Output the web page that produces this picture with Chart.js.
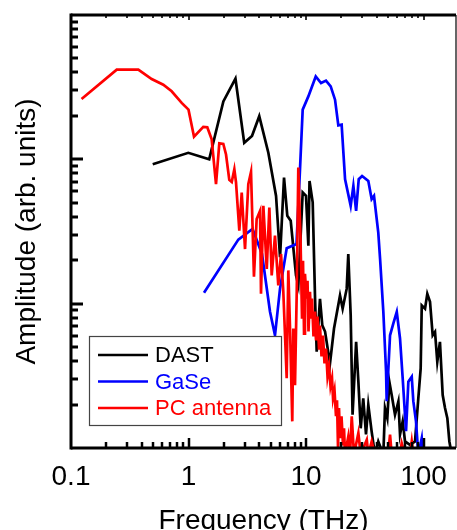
<!DOCTYPE html>
<html>
<head>
<meta charset="utf-8">
<script src="https://cdn.jsdelivr.net/npm/chart.js@4.4.1/dist/chart.umd.min.js"></script>
<style>
  html, body { margin:0; padding:0; background:#fff; overflow:hidden; }
  canvas { display:block; }
</style>
</head>
<body>
<canvas id="c" width="457" height="530"></canvas>
<script>
// spectra (frequency in THz, amplitude in arb. units)
const dastFreq = [0.496,0.996,1.50,1.98,2.51,2.98,3.47,4.00,4.78,5.56,6.01,6.50,6.93,7.41,8.22,8.60,9.37,10.0,10.47,10.71,11.40,11.94,12.33,13.15,13.76,14.52,16.0,17.31,19.47,20.5,22.2,22.9,24.0,24.9,26.7,27.9,29.2,30.7,32.4,33.9,36.2,38.6,41.2,45.5,47.0,49.2,51.2,53.6,57.2,61.1,63.1,66.5,69.6,76.7,84.7,90.3,94.6,96.6,103,107.7,113.6,119.7,125.3,131,138,145.6,152.4,159.5,166,173.8];
const dastAmp  = [0.0924,0.111,0.100,0.252,0.362,0.130,0.145,0.199,0.111,0.0558,0.0210,0.0748,0.0406,0.0375,0.0157,0.0134,0.0589,0.0558,0.0252,0.0708,0.0503,0.0108,0.00465,0.0108,0.00708,0.00641,0.00386,0.00673,0.0114,0.00924,0.0127,0.0221,0.0083,0.0017,0.00544,0.00288,0.00137,0.00221,0.00124,0.00199,0.0013,0.0009,0.00111,0.0009,0.00189,0.00161,0.00288,0.00233,0.0017,0.0021,0.00124,0.00153,0.00111,0.00105,0.00111,0.00221,0.00356,0.00973,0.00924,0.0117,0.0103,0.00604,0.00638,0.00396,0.00544,0.00233,0.00189,0.00161,0.00111,0.0009];

const gaseFreq = [1.355,2.654,3.507,4.22,4.94,5.445,6.01,6.85,8.30,8.89,9.37,10.47,12.10,13.42,14.79,16.22,17.66,18.84,20.1,21.5,24.0,25.3,26.7,28.1,30.0,33.9,36.2,37.9,41.2,42.7,45.5,48.0,48.6,50.1,51.9,55.3,59.2,63.1,66.5,71.0,74.3,79.4,81.9,86.3,90.3,96.6,99];
const gaseAmp  = [0.0119,0.0278,0.0329,0.0221,0.0088,0.00604,0.0127,0.0242,0.0259,0.0853,0.221,0.273,0.375,0.338,0.351,0.320,0.259,0.172,0.174,0.0728,0.0476,0.0655,0.044,0.0728,0.0767,0.0708,0.053,0.0558,0.0312,0.0204,0.0088,0.0034,0.00211,0.0034,0.00604,0.00728,0.00877,0.00574,0.00304,0.00131,0.00288,0.00312,0.00211,0.00153,0.0009,0.00117,0.0009];

const pcFreq = [0.123,0.245,0.374,0.486,0.610,0.719,0.875,1.00,1.114,1.336,1.445,1.575,1.714,1.829,1.978,2.086,2.224,2.333,2.455,2.536,2.707,2.837,3.027,3.228,3.404,3.606,3.802,4.064,4.140,4.335,4.634,4.875,5.105,5.445,5.81,6.13,6.41,6.85,7.07,7.31,7.64,7.80,8.06,8.34,8.60,
  8.98,9.25,9.43,9.62,9.80,10.10,10.30,10.50,10.81,11.03,11.25,11.58,11.93,12.17,12.53,12.90,13.15,13.55,13.95,14.37,14.80,15.24,15.70,16.16,16.65,16.98,17.48,18.00,18.36,18.72,19.09,19.47,20.05,20.65,21.06,21.47,
  22.9,23.7,24.5,25.6,27.9,29.2,32.9,33.9,36.2,38.6,49.9,51.9,53.6,63.1,65.2,69.6,76.7,79.4,81.9];
const pcAmp  = [0.262,0.418,0.418,0.360,0.329,0.296,0.246,0.221,0.1435,0.168,0.167,0.1374,0.0673,0.129,0.128,0.108,0.072,0.0697,0.0853,0.0694,0.0320,0.0589,0.0239,0.0673,0.0817,0.01535,0.0386,0.044,0.01172,0.0476,0.0174,0.0464,0.01567,0.0296,0.01337,0.0221,0.0121,0.00304,0.0170,0.00673,0.00153,0.00673,0.00272,0.0121,0.0877,
  0.0281,0.00788,0.0198,0.00621,0.0161,0.01083,0.0144,0.00641,0.0121,0.00788,0.01083,0.00592,0.00881,0.00556,0.00813,0.00489,0.00705,0.00431,0.00602,0.00386,0.00489,0.00314,0.00368,0.00268,0.00304,0.00221,0.00251,0.00166,0.00214,0.00101,0.00189,0.00117,0.00166,0.00104,0.00137,0.0009,
  0.0012,0.0009,0.00166,0.0009,0.00127,0.0009,0.00114,0.0009,0.00111,0.0009,0.0009,0.00124,0.0009,0.0009,0.00108,0.0009,0.0009,0.00111,0.0009];

const seriesNames  = ['DAST', 'GaSe', 'PC antenna'];
const seriesColors = ['#000000', '#0000ff', '#ff0000'];
const xTickLabels  = ['0.1', '1', '10', '100'];

const FONT = "'Liberation Sans', Arial, sans-serif";

function pts(fx, ay) { return fx.map((f, i) => ({ x: f, y: ay[i] })); }
function isDecade(v) { const l = Math.log10(v); return Math.abs(l - Math.round(l)) < 1e-6; }
function isWhole(v) { const s = v / Math.pow(10, Math.floor(Math.log10(v) + 1e-9)); return Math.abs(s - Math.round(s)) < 1e-6; }

// inward ticks, frame and legend box
const framePlugin = {
  id: 'frame',
  afterDatasetsDraw(chart) {
    const { ctx, chartArea: a, scales: { x, y } } = chart;
    const seg = (x1, y1, x2, y2) => { ctx.beginPath(); ctx.moveTo(x1, y1); ctx.lineTo(x2, y2); ctx.stroke(); };
    ctx.save();
    x.ticks.forEach(t => {
      if (!isWhole(t.value)) return;
      const px = Math.round(x.getPixelForValue(t.value));
      if (px < a.left + 2 || px > a.right - 2) return;
      const maj = isDecade(t.value);
      ctx.strokeStyle = '#000';
      ctx.lineWidth = 2.5;
      seg(px, a.bottom, px, a.bottom - (maj ? 10 : 6));
      ctx.strokeStyle = '#333';
      ctx.lineWidth = 2;
      seg(px, a.top, px, a.top + (maj ? 5 : 3));
    });
    ctx.strokeStyle = '#000';
    y.ticks.forEach(t => {
      if (!isWhole(t.value)) return;
      const py = Math.round(y.getPixelForValue(t.value));
      if (py < a.top + 2 || py > a.bottom - 2) return;
      ctx.lineWidth = 3;
      seg(a.left, py, a.left + (isDecade(t.value) ? 12 : 7), py);
    });
    ctx.lineWidth = 3;
    seg(a.left, a.top, a.right, a.top);
    seg(a.left, a.top - 1.5, a.left, a.bottom + 1.5);
    seg(a.left, a.bottom, a.right, a.bottom);
    ctx.lineWidth = 1.2;
    seg(a.right, a.top, a.right, a.bottom);

    // legend
    const bx = 89, by = 336, bw = 192, bh = 89;
    ctx.fillStyle = '#fff';
    ctx.fillRect(bx, by, bw, bh);
    ctx.strokeStyle = '#444';
    ctx.lineWidth = 1.2;
    ctx.strokeRect(bx + 0.5, by + 0.5, bw, bh);
    ctx.font = '22px ' + FONT;
    ctx.textBaseline = 'middle';
    seriesNames.forEach((n, i) => {
      const ly = 355 + i * 26.5;
      ctx.strokeStyle = seriesColors[i];
      ctx.lineWidth = 2.5;
      seg(98, ly, 148, ly);
      ctx.fillStyle = seriesColors[i];
      ctx.fillText(n, 155, ly + 1);
    });
    ctx.restore();
  }
};

new Chart(document.getElementById('c'), {
  type: 'line',
  data: {
    datasets: [
      { label: seriesNames[0], data: pts(dastFreq, dastAmp), borderColor: seriesColors[0], order: 2 },
      { label: seriesNames[1], data: pts(gaseFreq, gaseAmp), borderColor: seriesColors[1], order: 1 },
      { label: seriesNames[2], data: pts(pcFreq, pcAmp), borderColor: seriesColors[2], order: 0 }
    ]
  },
  options: {
    responsive: false,
    animation: false,
    layout: { padding: { top: 15, right: 1, left: 0, bottom: 0 } },
    elements: { line: { borderWidth: 2.7, tension: 0 }, point: { radius: 0 } },
    plugins: { legend: { display: false }, tooltip: { enabled: false } },
    scales: {
      x: {
        type: 'logarithmic', min: 0.1, max: 189,
        grid: { display: false, drawTicks: false },
        border: { display: false },
        ticks: {
          autoSkip: false, maxRotation: 0, padding: 12, color: '#000',
          font: { family: FONT, size: 28 },
          callback: v => { const s = String(+v.toPrecision(3)); return isDecade(v) && xTickLabels.includes(s) ? s : ''; }
        },
        title: { display: true, text: 'Frequency (THz)', color: '#000', font: { family: FONT, size: 28 }, padding: { top: 0, bottom: -8 } },
        afterFit: s => { s.height = 82; s.paddingLeft = 0; s.paddingRight = 0; }
      },
      y: {
        type: 'logarithmic', min: 0.001, max: 1,
        grid: { display: false, drawTicks: false },
        border: { display: false },
        ticks: { display: false },
        title: { display: true, text: 'Amplitude (arb. units)', color: '#000', font: { family: FONT, size: 28 }, padding: { top: 10, bottom: 0 } },
        afterFit: s => { s.width = 71; }
      }
    }
  },
  plugins: [framePlugin]
});
</script>
</body>
</html>
